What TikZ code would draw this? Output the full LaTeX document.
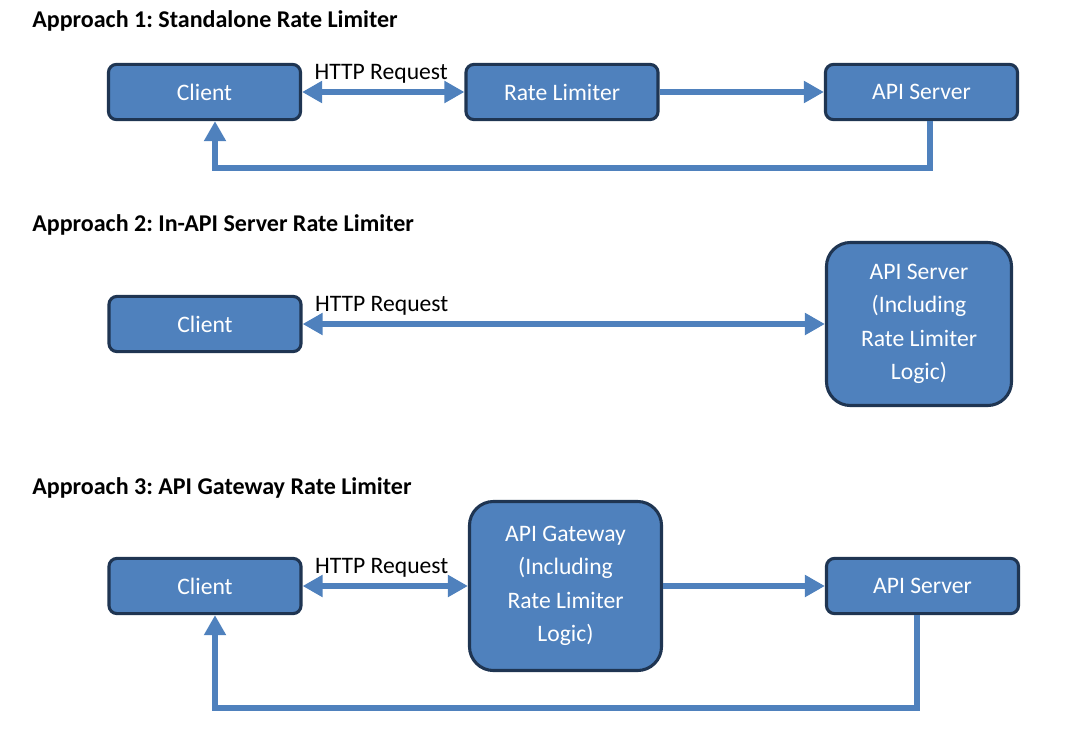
\documentclass[tikz,border=0pt]{standalone}
\usepackage{fontspec}
\setmainfont{Carlito}
\usepackage{tikz}
\usetikzlibrary{arrows.meta}
\definecolor{boxblue}{HTML}{4F81BD}
\definecolor{boxedge}{HTML}{1F3552}
\frenchspacing

\begin{document}
\begin{tikzpicture}[x=0.025cm,y=-0.025cm,
  box/.style={draw=boxedge,fill=boxblue,line width=2.2pt,rounded corners=0.2cm,text=white,
    font=\fontsize{16.8}{23.7}\selectfont,minimum width=4.8cm,minimum height=1.38cm,inner sep=0pt},
  bigbox/.style={box,rounded corners=0.6cm,align=center},
  flow/.style={draw=boxblue,line width=3.6pt,-{Triangle[length=0.5cm,width=0.525cm]}},
  both/.style={flow,{Triangle[length=0.5cm,width=0.525cm]}-{Triangle[length=0.5cm,width=0.525cm]}},
  req/.style={font=\fontsize{16.8}{23.7}\selectfont,inner sep=0pt,anchor=base west,xshift=0.25cm,yshift=0.325cm},
  title/.style={font=\fontsize{17.1}{20}\selectfont\bfseries,anchor=base west,inner sep=0pt}]
\useasboundingbox (0,0) rectangle (1072,732);

% Titles
\foreach \n/\y/\t in {1/27/{Standalone Rate Limiter},2/231/{In-API Server Rate Limiter},3/494/{API Gateway Rate Limiter}}
  \node[title] (title\n) at (32,\y) {Approach \n: \t};

% Approach 1
\node[box] (client1) at (204.5,92) {Client};
\node[box] (limiter) at (562,92) {Rate Limiter};
\node[box] (api1) at (921.5,92) {API Server};
\draw[both] (client1.east) -- (limiter.west) node[req,pos=0] (req1) {HTTP Request};
\draw[flow] (limiter.east) -- (api1.west);
\coordinate (back1) at (930,168);
\coordinate (up1) at (215,168);
\draw[flow] (api1.south -| back1) -- (back1) -- (up1) -- (client1.south -| up1);

% Approach 2
\node[box] (client2) at (205,324) {Client};
\node[bigbox,minimum width=4.625cm,minimum height=4.075cm] (api2) at (919,324)
  {API Server\\(Including\\Rate Limiter\\Logic)};
\draw[both] (client2.east) -- (api2.west) node[req,pos=0] (req2) {HTTP Request};

% Approach 3
\node[box] (client3) at (205,586) {Client};
\node[bigbox,minimum width=4.8cm,minimum height=4.225cm] (gateway) at (565.5,586)
  {API Gateway\\(Including\\Rate Limiter\\Logic)};
\node[box] (api3) at (922.5,586) {API Server};
\draw[both] (client3.east) -- (gateway.west) node[req,pos=0] (req3) {HTTP Request};
\draw[flow] (gateway.east) -- (api3.west);
\coordinate (back3) at (917,708);
\coordinate (up3) at (215,708);
\draw[flow] (api3.south -| back3) -- (back3) -- (up3) -- (client3.south -| up3);

\end{tikzpicture}
\end{document}
